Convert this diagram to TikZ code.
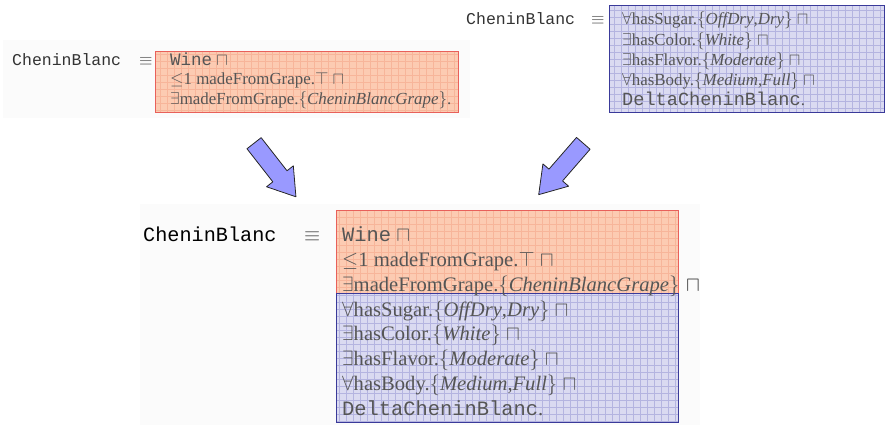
\documentclass[tikz,border=0pt]{standalone}
\usepackage{fontspec}
\setmainfont{Liberation Serif}
\setmonofont{Liberation Mono}
\definecolor{orfill}{HTML}{FCCBB2}
\definecolor{orgrid}{HTML}{F7B59A}
\definecolor{ordraw}{HTML}{E8605A}
\definecolor{blfill}{HTML}{DADAF1}
\definecolor{blgrid}{HTML}{B4B4E0}
\definecolor{bldraw}{HTML}{3A3A9A}
\definecolor{txt}{HTML}{555555}
\definecolor{arrfill}{HTML}{9999FF}
\definecolor{haze}{HTML}{FBFBFB}
\tikzset{
  gridfill/.style={path picture={\draw[#1, line width=0.6pt, step=7pt]
      (path picture bounding box.south west) grid (path picture bounding box.north east);}},
  orbox/.style={draw=ordraw, fill=orfill, gridfill=orgrid, line width=1pt, inner sep=0, anchor=north west},
  blbox/.style={draw=bldraw, fill=blfill, gridfill=blgrid, line width=1pt, inner sep=0, anchor=north west},
  small/.style={font=\fontsize{16.9}{20}\selectfont, text=txt, inner sep=0, anchor=base west},
  large/.style={font=\fontsize{20.6}{25}\selectfont, text=txt, inner sep=0, anchor=base west},
  namesm/.style={font=\fontsize{16.5}{20}\selectfont\ttfamily, text=black!80, inner sep=0, anchor=base west},
  namelg/.style={font=\fontsize{20.2}{24}\selectfont\ttfamily, inner sep=0, anchor=base west},
  fatarrow/.pic={\draw[draw=black!85, fill=arrfill, line width=0.8pt, line join=round]
      (-34,-9) -- (8,-9) -- (8,-17) -- (34,0) -- (8,17) -- (8,9) -- (-34,9) -- cycle;},
}
% concept-conjunction sign after a line
\newcommand\andop{\ $\sqcap$}
% monospaced concept names at two sizes
\newcommand\monosm[1]{{\ttfamily\fontsize{17.5}{20}\selectfont #1}}
\newcommand\monomd[1]{{\ttfamily\fontsize{18.6}{20}\selectfont #1}}
\newcommand\monolg[1]{{\ttfamily\fontsize{20.4}{25}\selectfont #1}}
\begin{document}
\begin{tikzpicture}[x=1pt, y=-1pt]
\useasboundingbox (0,0) rectangle (891,433);
% faint backdrops behind the two definition blocks
\fill[haze] (3,40) rectangle (470,118);
\fill[haze] (140,204) rectangle (700,425);

% upper left: the original definition
\node[namesm] (tlname) at (12,66) {CheninBlanc};
\node[small, text=black!70] (tleq) at (139,66) {$\equiv$};
\node[orbox, minimum width=303pt, minimum height=61pt] (tlbox) at (155,51) {};
\node[small] (tl1) at (170,66) {\monosm{Wine}\andop};
\node[small] (tl2) at (170,85) {$\leq$1 madeFromGrape.$\top$\andop};
\node[small] (tl3) at (170,105) {$\exists$madeFromGrape.$\{$\textit{CheninBlancGrape}$\}$.};

% upper right: the delta definition
\node[namesm] (trname) at (466,25) {CheninBlanc};
\node[small, text=black!70] (treq) at (591,25) {$\equiv$};
\node[blbox, minimum width=275pt, minimum height=107pt] (trbox) at (609,5) {};
\node[small] (tr1) at (622,25) {$\forall$hasSugar.$\{$\textit{OffDry},\textit{Dry}$\}$\andop};
\node[small] (tr2) at (622,46) {$\exists$hasColor.$\{$\textit{White}$\}$\andop};
\node[small] (tr3) at (622,66) {$\exists$hasFlavor.$\{$\textit{Moderate}$\}$\andop};
\node[small] (tr4) at (622,86) {$\forall$hasBody.$\{$\textit{Medium},\textit{Full}$\}$\andop};
\node[small] (tr5) at (622,106) {\monomd{DeltaCheninBlanc}.};

% arrows into the merged definition
\pic[rotate=-52] at (275,170) {fatarrow};
\pic[rotate=-131] at (561,169) {fatarrow};

% bottom: the merged definition
\node[namelg] (bname) at (143,241) {CheninBlanc};
\node[large, text=black!70] (beq) at (304,241) {$\equiv$};
\node[orbox, minimum width=342pt, minimum height=83pt] (borbox) at (336,210) {};
\node[blbox, minimum width=342pt, minimum height=129pt] (bblbox) at (336,293) {};
\node[large] (b1) at (342,241) {\monolg{Wine}\andop};
\node[large] (b2) at (342,266) {$\leq$1 madeFromGrape.$\top$\andop};
\node[large] (b3) at (342,291) {$\exists$madeFromGrape.$\{$\textit{CheninBlancGrape}$\}$};
\node[large, text=black!80] (b3c) at (686,291) {$\sqcap$};
\node[large] (b4) at (342,316) {$\forall$hasSugar.$\{$\textit{OffDry},\textit{Dry}$\}$\andop};
\node[large] (b5) at (342,340) {$\exists$hasColor.$\{$\textit{White}$\}$\andop};
\node[large] (b6) at (342,365) {$\exists$hasFlavor.$\{$\textit{Moderate}$\}$\andop};
\node[large] (b7) at (342,390) {$\forall$hasBody.$\{$\textit{Medium},\textit{Full}$\}$\andop};
\node[large] (b8) at (342,415) {\monolg{DeltaCheninBlanc}.};
\end{tikzpicture}
\end{document}
